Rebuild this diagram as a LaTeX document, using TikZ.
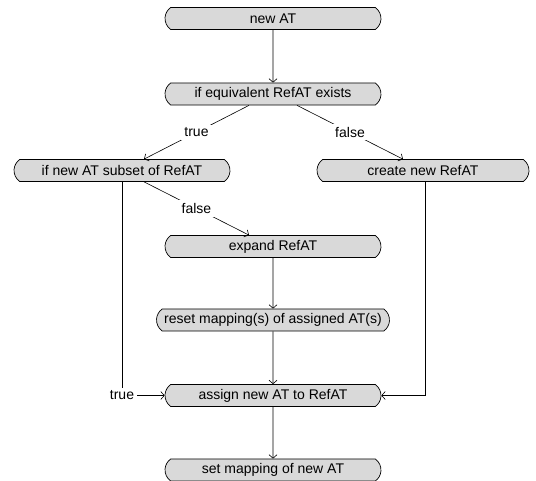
\documentclass[tikz,border=0pt]{standalone}
\usepackage{fontspec}
\setmainfont{Liberation Sans}
\usetikzlibrary{shapes.misc,arrows.meta}
\definecolor{boxgray}{RGB}{217,217,217}
\begin{document}
\begin{tikzpicture}[x=1pt,y=1pt,
  font=\fontsize{14}{16}\selectfont,
  stepbox/.style={rounded rectangle, rounded rectangle arc length=110, draw, line width=0.7pt, fill=boxgray,
    minimum width=228pt, minimum height=22pt, inner xsep=6pt, inner ysep=4.5pt},
  conn/.style={draw, line width=0.6pt, -{Straight Barb[length=3.5pt,width=8pt]}},
  lbl/.style={fill=white, inner sep=3pt}]
\useasboundingbox (0,0) rectangle (536,-481);
\node[stepbox] (newat) at (273,-18.5) {new AT};
\node[stepbox] (equiv) at (273,-94) {if equivalent RefAT exists};
\node[stepbox] (subset) at (122,-170.5) {if new AT subset of RefAT};
\node[stepbox, minimum width=224pt] (create) at (423,-170.5) {create new RefAT};
\node[stepbox] (expand) at (273,-246.5) {expand RefAT};
\node[stepbox] (reset) at (273,-320) {reset mapping(s) of assigned AT(s)};
\node[stepbox] (assign) at (273,-395.5) {assign new AT to RefAT};
\node[stepbox] (setmap) at (273,-470) {set mapping of new AT};

\draw[conn] (newat) -- (equiv);
\draw[conn] ([xshift=-24pt]equiv.south) -- node[lbl] {true} ([xshift=22pt]subset.north);
\draw[conn] ([xshift=24pt]equiv.south) -- node[lbl] {false} ([xshift=-20pt]create.north);
\draw[conn] ([xshift=22pt]subset.south) -- node[lbl] {false} ([xshift=-24pt]expand.north);
\draw[conn] (expand) -- (reset);
\draw[conn] (reset) -- (assign);
\draw[conn] (assign) -- (setmap);
\draw[conn] (subset.south) |- node[lbl, pos=0.5] {true} (assign.west);
\draw[conn] ([xshift=2pt]create.south) |- (assign.east);
\end{tikzpicture}
\end{document}
